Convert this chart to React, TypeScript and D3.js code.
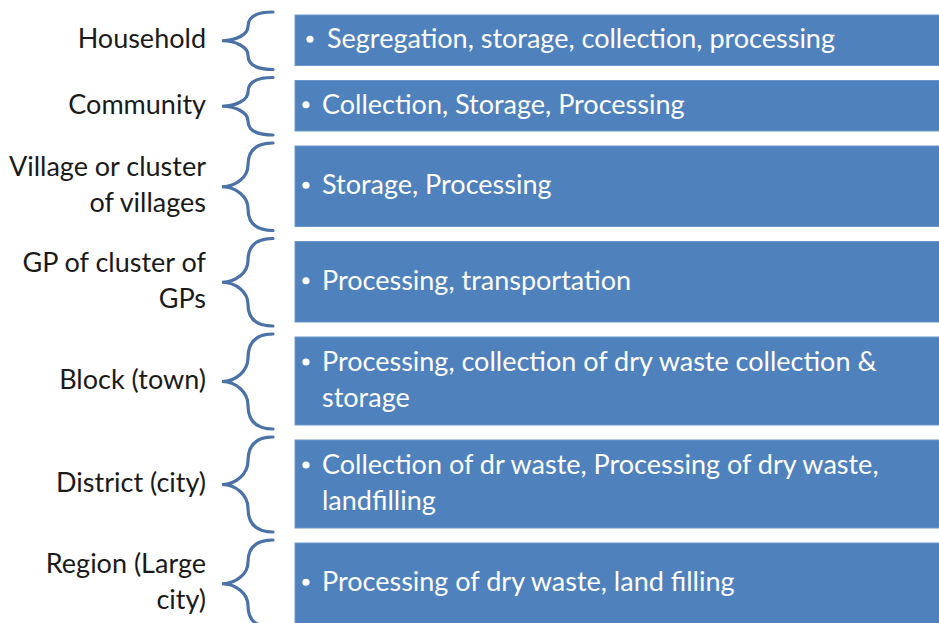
import React from "react";
import * as d3 from "d3";

const levels: string[][] = [
  ["Household"],
  ["Community"],
  ["Village or cluster", "of villages"],
  ["GP of cluster of", "GPs"],
  ["Block (town)"],
  ["District (city)"],
  ["Region (Large", "city)"],
];

const activities: string[][] = [
  [" Segregation, storage, collection, processing"],
  ["Collection, Storage, Processing"],
  ["Storage, Processing"],
  ["Processing, transportation"],
  ["Processing, collection of dry waste collection &", "storage"],
  ["Collection of dr waste, Processing of dry waste,", "landfilling"],
  ["Processing of dry waste, land filling"],
];

const W = 939;
const H = 623;
const TOP = 15;
const GAP = 15;
const BOX_X = 295;
const LABEL_X = 206;
const LINE_H = 36;
const FONT = "Lato, 'Open Sans', sans-serif";
const FS = 27;
const BLUE = "#4F81BD";
const BRACE = "#4A72A6";

function rowHeight(i: number): number {
  if (activities[i].length > 1) return 88;
  if (levels[i].length > 1) return 80.5;
  return 50.5;
}

export default function App() {
  const heights = levels.map((_, i) => rowHeight(i));
  const tops: number[] = [];
  let acc = TOP;
  heights.forEach((h) => {
    tops.push(acc);
    acc += h + GAP;
  });
  const y = d3.scaleLinear().domain([0, H]).range([0, H]);

  const bracePath = (t: number, b: number) => {
    const top = t - 3;
    const bot = b + 4;
    const m = (top + bot) / 2;
    const q = (m - top) / 2;
    const xr = 273, xm = 248, xl = 222;
    const p = d3.path();
    p.moveTo(xr, top);
    p.bezierCurveTo(xm + 8, top, xm, top + q * 0.35, xm, top + q);
    p.bezierCurveTo(xm, m - q * 0.45, xl + 14, m, xl, m);
    p.bezierCurveTo(xl + 14, m, xm, m + q * 0.45, xm, m + q);
    p.bezierCurveTo(xm, bot - q * 0.35, xm + 8, bot, xr, bot);
    return p.toString();
  };

  return (
    <svg
      width={W}
      height={H}
      style={{ position: "absolute", left: 0, top: 0, background: "#fff" }}
    >
      {levels.map((lab, i) => {
        const t = y(tops[i]);
        const h = heights[i];
        const b = t + h;
        const mid = (t + b) / 2;
        const acts = activities[i];
        const labStart = mid - ((lab.length - 1) * LINE_H) / 2 + 8;
        const actStart = mid - ((acts.length - 1) * LINE_H) / 2 + 8;
        const first = acts[0].startsWith(" ");
        return (
          <g key={i}>
            <rect
              x={BOX_X}
              y={t}
              width={W - BOX_X + 10}
              height={h}
              fill={BLUE}
              stroke="#6D97CB"
              strokeWidth={1}
            />
            <path
              d={bracePath(t, b)}
              fill="none"
              stroke={BRACE}
              strokeWidth={3.2}
              strokeLinecap="round"
            />
            {lab.map((l, j) => (
              <text
                key={j}
                x={LABEL_X}
                y={labStart + j * LINE_H}
                textAnchor="end"
                fontFamily={FONT}
                fontSize={FS}
                fill="#1a1a1a"
              >
                {l}
              </text>
            ))}
            <circle cx={first ? 310 : 306} cy={actStart - 9} r={3.6} fill="#fff" />
            {acts.map((a, j) => (
              <text
                key={j}
                x={first ? 327 : 322}
                y={actStart + j * LINE_H}
                fontFamily={FONT}
                fontSize={FS}
                fill="#fff"
              >
                {a.trim()}
              </text>
            ))}
          </g>
        );
      })}
    </svg>
  );
}
